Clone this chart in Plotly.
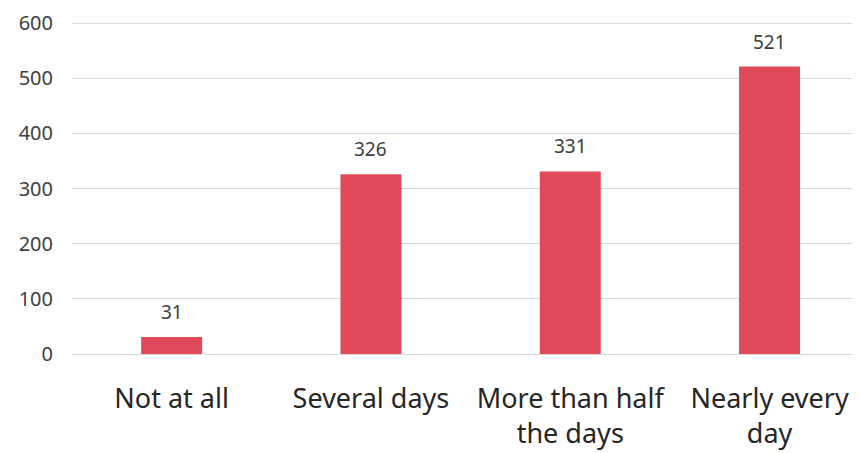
import plotly.graph_objects as go

categories = ["Not at all", "Several days", "More than half<br>the days", "Nearly every<br>day"]
values = [31, 326, 331, 521]
y_ticks = [0, 100, 200, 300, 400, 500, 600]

BAR = "#E04A58"

fig = go.Figure()
fig.add_trace(go.Bar(
    x=categories, y=values, width=0.306,
    marker=dict(color=BAR, line=dict(width=0)),
    hoverinfo="skip",
))

for c, v in zip(categories, values):
    fig.add_annotation(x=c, y=v, text=str(v), showarrow=False,
                       yanchor="bottom", yshift=10,
                       font=dict(family="Noto Sans", size=19, color="#404040"))

# page body has an 8px default margin; margins compensate for it
fig.update_layout(
    width=860, height=453,
    margin=dict(l=64, r=0, t=10, b=107, autoexpand=False),
    paper_bgcolor="white", plot_bgcolor="white",
    showlegend=False,
    font=dict(family="Noto Sans", color="#404040"),
)
fig.update_xaxes(
    range=[-0.5, 3.494], showgrid=False, showline=False, zeroline=False,
    tickfont=dict(size=27, color="#262626"), ticks="", ticklabelstandoff=26,
    automargin=False,
)
fig.update_yaxes(
    range=[0, 609.06], tickvals=y_ticks, showgrid=True, gridcolor="#D9D9D9", gridwidth=1.2,
    zeroline=True, zerolinecolor="#D9D9D9", zerolinewidth=1.2, showline=False,
    tickfont=dict(size=20, color="#404040"), ticks="", ticklabelstandoff=18,
    automargin=False,
)

fig.write_html("out.html")
